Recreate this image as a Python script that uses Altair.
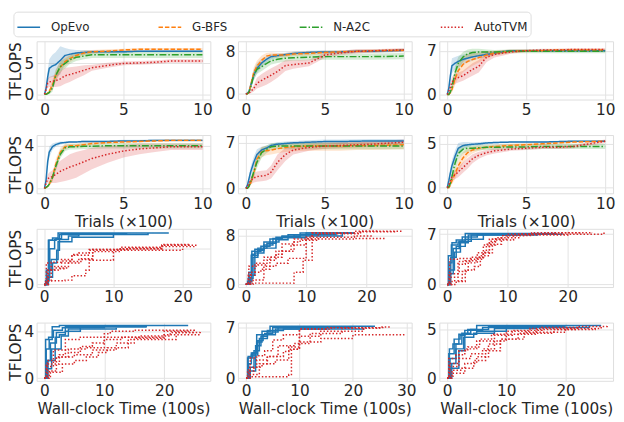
import altair as alt
import pandas as pd

FONT = "DejaVu Sans"
TXT = "#262626"
GRID = "#e3e3e3"
FRAME = "#cccccc"
FS = 15.5

METHODS = ["OpEvo", "G-BFS", "N-A2C", "AutoTVM"]
COLORS = ["#1f77b4", "#ff7f0e", "#2ca02c", "#d62728"]
DASHES = [[1, 0], [4.5, 2], [7, 2, 1.5, 2], [1.5, 2]]

# ---------- Trials panels (x in units of 100 trials) ----------
TRIALS_X = [0, 0.1, 0.2, 0.3, 0.5, 0.7, 1.0, 1.3, 1.6, 2.0, 2.5, 3.0, 4.0, 5.0, 6.0, 7.0, 8.0, 10.0]

p1_opevo = [0, 1.0, 2.8, 4.2, 4.6, 4.8, 5.5, 6.3, 6.5, 6.7, 6.8, 6.9, 6.9, 6.9, 7.0, 7.0, 7.0, 7.0]
p1_opevo_sd = [0, 0.5, 1.0, 1.5, 1.8, 2.0, 2.3, 1.2, 0.8, 0.5, 0.4, 0.3, 0.3, 0.3, 0.2, 0.2, 0.2, 0.2]
p1_gbfs = [0, 0, 0.2, 0.5, 1.5, 3.0, 4.4, 5.3, 5.8, 6.3, 6.7, 6.9, 7.0, 7.2, 7.3, 7.3, 7.3, 7.3]
p1_gbfs_sd = [0, 0, 0.2, 0.4, 0.8, 1.0, 1.0, 0.8, 0.6, 0.5, 0.4, 0.3, 0.3, 0.2, 0.2, 0.2, 0.2, 0.2]
p1_na2c = [0, 0, 0.1, 0.3, 1.0, 3.0, 4.5, 5.0, 5.6, 6.0, 6.2, 6.4, 6.4, 6.4, 6.4, 6.4, 6.4, 6.4]
p1_na2c_sd = [0, 0, 0.1, 0.3, 0.6, 0.8, 0.8, 0.8, 0.7, 0.6, 0.5, 0.5, 0.5, 0.5, 0.5, 0.5, 0.5, 0.5]
p1_autotvm = [0, 0.8, 1.8, 2.0, 2.1, 2.2, 2.5, 3.0, 3.2, 3.5, 3.9, 4.3, 4.7, 5.0, 5.1, 5.2, 5.4, 5.4]
p1_autotvm_sd = [0, 0.5, 0.8, 0.8, 0.9, 1.0, 1.2, 1.3, 1.2, 1.0, 0.8, 0.5, 0.4, 0.3, 0.3, 0.3, 0.3, 0.3]

p2_opevo = [0, 0.1, 0.5, 1.5, 3.5, 4.8, 5.8, 6.5, 7.0, 7.2, 7.4, 7.6, 7.8, 7.9, 7.9, 8.0, 8.0, 8.2]
p2_opevo_sd = [0, 0.1, 0.3, 0.7, 1.0, 1.0, 0.8, 0.6, 0.5, 0.4, 0.3, 0.3, 0.3, 0.3, 0.3, 0.3, 0.3, 0.3]
p2_gbfs = [0, 0, 0.3, 1.5, 4.0, 5.2, 6.3, 7.1, 7.3, 7.3, 7.3, 7.5, 7.6, 7.8, 7.9, 8.0, 8.1, 8.2]
p2_gbfs_sd = [0, 0, 0.2, 0.6, 1.0, 1.0, 0.9, 0.6, 0.5, 0.4, 0.4, 0.4, 0.4, 0.3, 0.3, 0.3, 0.3, 0.3]
p2_na2c = [0, 0, 0.3, 1.2, 3.5, 4.6, 5.1, 5.7, 6.2, 6.5, 6.7, 6.8, 6.9, 7.0, 7.0, 7.0, 7.0, 7.1]
p2_na2c_sd = [0, 0, 0.2, 0.5, 0.8, 0.9, 0.8, 0.8, 0.7, 0.7, 0.6, 0.6, 0.6, 0.6, 0.6, 0.6, 0.6, 0.6]
p2_autotvm = [0, 0, 0.1, 0.4, 1.0, 2.0, 2.5, 3.0, 3.5, 4.2, 5.3, 5.5, 5.8, 7.3, 7.7, 8.0, 8.1, 8.3]
p2_autotvm_sd = [0, 0, 0.1, 0.3, 0.6, 1.0, 1.2, 1.3, 1.3, 1.2, 1.0, 0.8, 0.6, 0.5, 0.4, 0.4, 0.3, 0.3]

p3_opevo = [0, 1.0, 3.0, 4.6, 5.0, 5.3, 5.6, 5.8, 6.0, 6.2, 6.4, 6.6, 7.0, 7.0, 7.0, 7.0, 7.0, 7.0]
p3_opevo_sd = [0, 0.5, 1.0, 1.2, 1.0, 0.9, 0.8, 0.7, 0.6, 0.5, 0.4, 0.3, 0.2, 0.2, 0.2, 0.2, 0.2, 0.2]
p3_gbfs = [0, 0, 0.3, 0.8, 2.5, 3.8, 4.8, 5.3, 5.6, 5.9, 6.3, 6.6, 6.9, 7.0, 7.0, 7.1, 7.1, 7.1]
p3_gbfs_sd = [0, 0, 0.2, 0.5, 1.0, 1.2, 1.3, 1.2, 1.0, 0.8, 0.6, 0.4, 0.3, 0.2, 0.2, 0.2, 0.2, 0.2]
p3_na2c = [0, 0, 0.4, 1.2, 3.5, 5.0, 6.0, 6.5, 6.7, 6.8, 6.8, 6.8, 6.9, 6.9, 6.9, 6.9, 6.9, 6.9]
p3_na2c_sd = [0, 0, 0.3, 0.6, 1.0, 1.0, 0.8, 0.7, 0.6, 0.5, 0.4, 0.3, 0.3, 0.3, 0.3, 0.3, 0.3, 0.3]
p3_autotvm = [0, 0.5, 1.2, 2.0, 2.5, 2.7, 3.0, 3.5, 4.0, 4.5, 6.0, 6.4, 6.8, 7.0, 7.1, 7.1, 7.2, 7.2]
p3_autotvm_sd = [0, 0.3, 0.5, 0.8, 0.8, 0.8, 0.8, 0.9, 1.0, 1.0, 0.8, 0.5, 0.3, 0.2, 0.2, 0.2, 0.2, 0.2]

p4_opevo = [0, 0.8, 2.5, 3.4, 3.9, 4.1, 4.25, 4.3, 4.35, 4.35, 4.4, 4.4, 4.4, 4.45, 4.45, 4.5, 4.5, 4.5]
p4_opevo_sd = [0, 0.3, 0.6, 0.5, 0.3, 0.2, 0.15, 0.1, 0.1, 0.1, 0.1, 0.1, 0.1, 0.1, 0.1, 0.1, 0.1, 0.1]
p4_gbfs = [0, 0.1, 0.2, 0.4, 1.0, 2.2, 3.4, 3.9, 4.0, 4.0, 4.1, 4.2, 4.3, 4.35, 4.4, 4.45, 4.5, 4.5]
p4_gbfs_sd = [0, 0, 0.1, 0.2, 0.4, 0.5, 0.4, 0.3, 0.2, 0.2, 0.2, 0.15, 0.15, 0.15, 0.1, 0.1, 0.1, 0.1]
p4_na2c = [0, 0.1, 0.2, 0.4, 1.0, 2.0, 3.2, 3.8, 3.9, 3.9, 3.95, 3.95, 4.0, 4.0, 4.0, 4.0, 4.0, 4.0]
p4_na2c_sd = [0, 0, 0.1, 0.2, 0.3, 0.4, 0.4, 0.3, 0.25, 0.25, 0.25, 0.25, 0.25, 0.25, 0.25, 0.25, 0.25, 0.25]
p4_autotvm = [0, 0.5, 0.9, 1.0, 1.1, 1.3, 1.6, 1.8, 2.0, 2.2, 2.5, 2.8, 3.2, 3.5, 3.7, 3.8, 3.9, 3.9]
p4_autotvm_sd = [0, 0.2, 0.4, 0.5, 0.6, 0.8, 1.0, 1.1, 1.2, 1.2, 1.1, 1.0, 0.8, 0.6, 0.5, 0.4, 0.3, 0.3]

p5_opevo = [0, 0.5, 1.5, 2.5, 4.0, 5.2, 5.9, 6.2, 6.6, 6.8, 6.9, 7.0, 7.1, 7.2, 7.2, 7.25, 7.3, 7.3]
p5_opevo_sd = [0, 0.3, 0.6, 0.8, 0.9, 0.8, 0.5, 0.4, 0.3, 0.3, 0.3, 0.3, 0.3, 0.3, 0.3, 0.3, 0.3, 0.3]
p5_gbfs = [0, 0, 0.3, 0.8, 2.3, 4.5, 5.6, 5.8, 5.9, 6.1, 6.3, 6.4, 6.5, 6.5, 6.5, 6.6, 6.6, 6.7]
p5_gbfs_sd = [0, 0, 0.2, 0.4, 0.8, 0.9, 0.8, 0.7, 0.7, 0.7, 0.7, 0.7, 0.7, 0.7, 0.7, 0.7, 0.7, 0.7]
p5_na2c = [0, 0, 0.3, 1.0, 2.5, 4.0, 5.5, 6.0, 6.4, 6.5, 6.5, 6.5, 6.5, 6.5, 6.5, 6.5, 6.5, 6.5]
p5_na2c_sd = [0, 0, 0.2, 0.5, 0.8, 0.9, 0.8, 0.6, 0.5, 0.5, 0.5, 0.5, 0.5, 0.5, 0.5, 0.5, 0.5, 0.5]
p5_autotvm = [0, 0.2, 0.8, 1.2, 1.6, 1.8, 1.9, 2.0, 2.5, 4.0, 5.2, 5.9, 6.3, 6.5, 6.6, 6.7, 6.8, 7.1]
p5_autotvm_sd = [0, 0.1, 0.4, 0.6, 0.7, 0.8, 0.8, 0.8, 1.0, 1.2, 1.0, 0.7, 0.5, 0.4, 0.4, 0.4, 0.4, 0.4]

p6_opevo = [0, 0.8, 1.7, 2.5, 3.6, 4.5, 4.8, 4.9, 4.95, 5.0, 5.1, 5.15, 5.2, 5.2, 5.2, 5.25, 5.3, 5.3]
p6_opevo_sd = [0, 0.3, 0.6, 0.7, 0.7, 0.6, 0.4, 0.3, 0.2, 0.2, 0.15, 0.1, 0.1, 0.1, 0.1, 0.1, 0.1, 0.1]
p6_gbfs = [0, 0, 0.3, 0.8, 1.6, 2.5, 3.4, 4.0, 4.3, 4.5, 4.6, 4.7, 4.8, 4.9, 5.0, 5.1, 5.2, 5.3]
p6_gbfs_sd = [0, 0, 0.2, 0.4, 0.6, 0.7, 0.6, 0.5, 0.4, 0.3, 0.2, 0.2, 0.2, 0.2, 0.15, 0.15, 0.1, 0.1]
p6_na2c = [0, 0.1, 0.5, 1.3, 2.8, 3.9, 4.4, 4.5, 4.5, 4.55, 4.6, 4.6, 4.65, 4.65, 4.7, 4.7, 4.7, 4.7]
p6_na2c_sd = [0, 0.1, 0.3, 0.6, 0.8, 0.7, 0.5, 0.4, 0.3, 0.3, 0.3, 0.3, 0.3, 0.3, 0.3, 0.3, 0.3, 0.3]
p6_autotvm = [0, 0.3, 0.8, 1.2, 1.5, 1.8, 2.3, 2.8, 3.3, 3.7, 4.0, 4.2, 4.4, 4.5, 4.6, 4.6, 4.7, 5.3]
p6_autotvm_sd = [0, 0.2, 0.3, 0.4, 0.5, 0.6, 0.6, 0.6, 0.5, 0.4, 0.3, 0.3, 0.2, 0.2, 0.2, 0.2, 0.2, 0.2]

# ---------- Wall-clock panels (x in units of 100 s), 5 runs each ----------
w1_opevo_t = [[0, 0.3, 0.6, 1.2, 2.0, 18], [0, 0.5, 0.8, 1.5, 3.5, 5.0, 12], [0, 0.4, 1.0, 2.0, 4.0, 10],
              [0, 0.2, 0.7, 1.7, 2.5, 8], [0, 0.6, 1.2, 1.8, 2.2, 15]]
w1_opevo_y = [[0, 2, 6.2, 6.5, 7.2, 7.2], [0, 1.2, 5, 6.3, 6.8, 7.1, 7.1], [0, 2, 3.5, 6.0, 6.6, 7.0],
              [0, 0.5, 6.2, 6.4, 7.1, 7.1], [0, 1.0, 3.0, 4.8, 7.0, 7.2]]
w1_autotvm_t = [[0, 0.3, 1, 2.5, 4, 5, 6.5, 11, 17, 22], [0, 0.5, 2, 3, 5, 7, 12, 17, 21],
                [0, 0.4, 3, 4, 6, 6.5, 10, 20], [0, 0.6, 1.5, 3.5, 5.5, 7, 11, 17, 22],
                [0, 0.2, 1, 2.5, 4, 6.5, 11, 17, 21]]
w1_autotvm_y = [[0, 3, 3.1, 3.3, 4.2, 4.4, 4.8, 5.0, 5.5, 5.5], [0, 2.0, 2.2, 3.0, 3.6, 4.9, 5.1, 5.6, 5.6],
                [0, 0.5, 0.6, 1.2, 2.0, 3.4, 4.8, 5.0], [0, 2.1, 2.3, 3.2, 3.5, 4.6, 5.0, 5.3, 5.3],
                [0, 0.5, 2.5, 3.5, 4.1, 4.9, 5.2, 5.5, 5.5]]

w2_opevo_t = [[0, 0.5, 1, 1.5, 3, 4.5, 6, 10, 18], [0, 0.8, 1.2, 2, 3.5, 5, 8, 15], [0, 0.3, 1.0, 2.5, 4, 6, 9, 18],
              [0, 0.6, 1.5, 3, 5, 7, 12], [0, 0.4, 0.9, 2, 3, 5.5, 10, 16]]
w2_opevo_y = [[0, 2, 5, 5.8, 6.5, 7.6, 8.0, 8.5, 8.5], [0, 1, 4.5, 6, 6.8, 7.8, 8.2, 8.3],
              [0, 0.5, 5.5, 6.3, 7.5, 7.9, 8.5, 8.5], [0, 1.5, 5.2, 6.0, 7.4, 8.2, 8.3],
              [0, 1, 4.8, 5.6, 7.0, 7.7, 8.0, 8.4]]
w2_autotvm_t = [[0, 1, 3, 6, 8, 9.5, 11, 19, 26], [0, 0.5, 2, 3.5, 5, 7.5, 10, 18, 23],
                [0, 0.8, 2.5, 4, 6, 8, 9, 12, 19, 25], [0, 1.2, 3, 5, 7, 10, 11, 18, 22],
                [0, 0.4, 1.5, 3, 5, 6, 8, 10, 18, 21]]
w2_autotvm_y = [[0, 0.2, 0.2, 0.2, 2, 4, 8.5, 8.8, 8.8], [0, 3, 3.2, 4, 5.5, 6.5, 7.5, 7.6, 7.6],
                [0, 2, 2.5, 4.5, 5.5, 7.0, 7.3, 8.4, 8.7, 8.7], [0, 0.7, 3, 3.5, 4.3, 7.6, 8.5, 8.8, 8.8],
                [0, 1.5, 3.5, 4.5, 5, 6.7, 7.5, 7.8, 8.0, 8.0]]

w3_opevo_t = [[0, 0.3, 0.8, 1.5, 3, 18], [0, 0.5, 1, 2, 4, 15], [0, 0.2, 0.7, 1.8, 2.5, 5, 19],
              [0, 0.4, 1.2, 2.2, 3.5, 12], [0, 0.6, 1.5, 3, 6, 16]]
w3_opevo_y = [[0, 3, 5.8, 6.2, 7.1, 7.2], [0, 1.5, 5.0, 6.0, 6.9, 7.1], [0, 4, 5.5, 5.9, 6.6, 7.0, 7.2],
              [0, 2, 4.5, 5.8, 6.9, 7.0], [0, 3.8, 5.3, 6.3, 7.0, 7.1]]
w3_autotvm_t = [[0, 0.4, 2, 4, 6, 7, 8, 12, 26], [0, 1.5, 3, 4.5, 5.5, 7, 9, 14, 24],
                [0, 0.3, 2, 3, 5, 6.5, 9, 13, 20], [0, 0.5, 1.8, 4, 6, 7.5, 10, 16, 22],
                [0, 0.8, 2.5, 3.5, 5, 6, 8, 11, 18]]
w3_autotvm_y = [[0, 3.5, 3.6, 3.8, 4.5, 6.0, 6.5, 7.0, 7.4], [0, 0.4, 2, 2.5, 4.0, 6.3, 6.8, 7.2, 7.3],
                [0, 1.5, 2.8, 3.3, 4.4, 5.6, 6.8, 6.9, 7.3], [0, 1, 3.2, 3.5, 4.4, 6.3, 7.0, 7.2, 7.3],
                [0, 0.5, 1.8, 3, 3.8, 5.5, 6.2, 7.0, 7.2]]

w4_opevo_t = [[0, 0.3, 0.8, 1.3, 2.5, 24], [0, 0.5, 1, 2, 3.5, 17], [0, 0.4, 1.2, 2.8, 4, 6, 17],
              [0, 0.2, 0.7, 1.5, 3, 10], [0, 0.6, 1.8, 2.5, 3.5, 6, 12]]
w4_opevo_y = [[0, 2.5, 3.3, 4.4, 4.5, 4.5], [0, 1.5, 3.0, 3.9, 4.4, 4.5], [0, 0.8, 2.5, 3.6, 4.2, 4.4, 4.4],
              [0, 3.3, 3.5, 4.1, 4.3, 4.4], [0, 1.5, 3.5, 3.7, 4.0, 4.2, 4.3]]
w4_autotvm_t = [[0, 0.3, 2.5, 3.5, 6, 10, 11, 15, 25], [0, 0.8, 2, 4, 6, 8, 10, 13, 20, 26],
                [0, 1, 3, 5, 7, 9, 10.5, 14, 22, 26], [0, 0.5, 2, 5, 8, 12, 15, 20, 24],
                [0, 0.4, 1.5, 4, 7, 10, 16, 21, 25]]
w4_autotvm_y = [[0, 1.2, 2.0, 3.3, 3.5, 3.8, 4.0, 4.1, 4.2], [0, 0.6, 1.8, 2.2, 2.7, 3.0, 3.3, 3.5, 3.7, 3.8],
                [0, 0.5, 1.2, 1.5, 1.8, 2.2, 2.6, 3.3, 3.9, 4.0], [0, 1.5, 1.8, 2.0, 2.4, 3.0, 3.4, 4.0, 4.2],
                [0, 1, 2.4, 2.5, 2.6, 3.5, 3.6, 3.9, 4.1]]

w5_opevo_t = [[0, 0.5, 1, 2, 3, 4.5, 24], [0, 0.8, 1.5, 2.5, 4, 6, 20], [0, 0.3, 1.2, 2, 3.5, 5, 18],
              [0, 0.6, 1.8, 2.8, 4, 7, 22], [0, 0.4, 1, 2.2, 3.2, 5.5, 15]]
w5_opevo_y = [[0, 2, 3.5, 5, 6.5, 7.2, 7.3], [0, 1.5, 3.8, 5.5, 6.4, 7.0, 7.1], [0, 2.8, 3.5, 6.0, 6.2, 7.0, 7.1],
              [0, 1, 4.5, 5.8, 6.6, 6.8, 7.0], [0, 3, 3.2, 5.2, 6.0, 6.8, 7.0]]
w5_autotvm_t = [[0, 1, 3, 6, 8, 8.5, 10, 15, 25, 27], [0, 0.5, 2, 4, 7, 8, 10, 14, 20, 29.5],
                [0, 0.8, 2, 3.5, 5, 7, 10, 16, 26], [0, 0.3, 1.5, 3, 5.5, 8, 10, 14, 22],
                [0, 0.5, 2.5, 4, 6, 9, 12, 18, 25]]
w5_autotvm_y = [[0, 0.2, 0.2, 0.2, 0.5, 4, 6.8, 7.0, 7.1, 7.2], [0, 1.5, 2.5, 3, 3.7, 4.0, 5.0, 5.5, 6.0, 6.2],
                [0, 2.8, 3.1, 3.8, 5.3, 6.0, 6.8, 7.0, 7.1], [0, 1, 1.5, 2.0, 2.5, 4.3, 5.8, 6.5, 7.0],
                [0, 0.5, 2.0, 3.0, 4.5, 4.8, 6.2, 6.9, 7.1]]

w6_opevo_t = [[0, 0.4, 1, 2, 3.5, 5, 26], [0, 0.8, 1.5, 2.5, 4, 7, 20], [0, 0.3, 1.2, 2.2, 3, 6, 18],
              [0, 0.6, 2, 3, 5, 10, 24], [0, 0.5, 1.5, 2.8, 4.5, 8, 15]]
w6_opevo_y = [[0, 3, 3.5, 4.5, 5.0, 5.4, 5.4], [0, 1.5, 3.5, 4.6, 5.0, 5.3, 5.3], [0, 2.5, 4.0, 4.4, 4.9, 5.2, 5.3],
              [0, 1, 2.8, 4.5, 4.8, 5.2, 5.4], [0, 2, 3.0, 4.2, 4.6, 5.1, 5.2]]
w6_autotvm_t = [[0, 0.5, 2, 4, 6, 8, 10, 15, 22, 27], [0, 1, 3, 5, 7, 9, 12, 18, 25],
                [0, 0.3, 1.5, 3, 5, 8, 11, 16, 22], [0, 0.8, 2.5, 4.5, 6.5, 9, 13, 20, 26],
                [0, 0.4, 2, 3.5, 5.5, 7.5, 10, 14, 21]]
w6_autotvm_y = [[0, 1.2, 2.0, 2.5, 3.0, 3.8, 4.5, 5.0, 5.3, 5.4], [0, 0.5, 1.5, 2.2, 3.5, 4.0, 4.6, 5.0, 5.3],
                [0, 2.0, 2.4, 3.0, 3.8, 4.4, 4.9, 5.2, 5.3], [0, 0.8, 1.0, 1.8, 2.8, 4.0, 4.7, 5.1, 5.3],
                [0, 1.5, 2.8, 3.2, 4.0, 4.5, 4.8, 5.1, 5.2]]

PANEL_W = 176
PANEL_H = 59

color_scale = alt.Scale(domain=METHODS, range=COLORS)
dash_scale = alt.Scale(domain=METHODS, range=DASHES)

LEGEND = alt.Legend(
    orient="none", legendX=-23.5, legendY=-30, direction="horizontal", columns=4,
    symbolType="stroke", symbolSize=529, symbolStrokeWidth=1.5,
    labelFontSize=12, labelFont=FONT, labelColor=TXT, labelOffset=10,
    columnPadding=52, gridAlign="all", padding=3, strokeColor="#dddddd",
    cornerRadius=4, fillColor="white", title=None,
)


def make_axis(values, title, is_y):
    kw = dict(values=values, grid=True, gridColor=GRID, gridWidth=1, domain=False, ticks=False,
              tickSize=0, labelPadding=3, labelFontSize=FS, labelFont=FONT,
              labelColor=TXT, format="d", titleFontSize=FS, titleFont=FONT,
              titleFontWeight="normal", titleColor=TXT, titlePadding=0 if is_y else 3,
              title=title)
    return alt.Axis(**kw)


def trial_panel(series, ydom, yticks, xtitle, ytitle):
    rows = []
    for m, (mean, sd) in zip(METHODS, series):
        for x, v, s in zip(TRIALS_X, mean, sd):
            rows.append({"method": m, "x": x, "y": v, "lo": v - s, "hi": v + s})
    df = pd.DataFrame(rows)
    xs = alt.Scale(domain=[-0.5, 10.5], nice=False, zero=False)
    ys = alt.Scale(domain=ydom, nice=False, zero=False)
    base = alt.Chart(df)
    layers = []
    for m, c in zip(METHODS, COLORS):
        layers.append(
            base.transform_filter(alt.datum.method == m).mark_area(opacity=0.2, color=c, clip=True).encode(
                x=alt.X("x:Q", scale=xs, axis=make_axis([0, 5, 10], xtitle, False)),
                y=alt.Y("lo:Q", scale=ys, axis=make_axis(yticks, ytitle, True)),
                y2="hi:Q",
            )
        )
    line = base.mark_line(strokeWidth=1.5, clip=True).encode(
        x="x:Q",
        y="y:Q",
        color=alt.Color("method:N", scale=color_scale, legend=LEGEND),
        strokeDash=alt.StrokeDash("method:N", scale=dash_scale, legend=LEGEND),
    )
    layers.append(line)
    return alt.layer(*layers).properties(width=PANEL_W, height=PANEL_H)


def wall_panel(op_t, op_y, at_t, at_y, xdom, xticks, ydom, yticks, xtitle, ytitle):
    rows = []
    for m, ts, ys in (("OpEvo", op_t, op_y), ("AutoTVM", at_t, at_y)):
        for i, (t, y) in enumerate(zip(ts, ys)):
            for a, b in zip(t, y):
                rows.append({"method": m, "run": f"{m}-{i}", "x": a, "y": b})
    df = pd.DataFrame(rows)
    xs = alt.Scale(domain=xdom, nice=False, zero=False)
    ys = alt.Scale(domain=ydom, nice=False, zero=False)
    return alt.Chart(df).mark_line(strokeWidth=1.5, interpolate="step-after", clip=True).encode(
        x=alt.X("x:Q", scale=xs, axis=make_axis(xticks, xtitle, False)),
        y=alt.Y("y:Q", scale=ys, axis=make_axis(yticks, ytitle, True)),
        color=alt.Color("method:N", scale=color_scale, legend=LEGEND),
        strokeDash=alt.StrokeDash("method:N", scale=dash_scale, legend=LEGEND),
        detail="run:N",
    ).properties(width=PANEL_W, height=PANEL_H)


P = "TFLOPS"
TR = "Trials (\u00d7100)"
WC = "Wall-clock Time (100s)"

panels = [
    trial_panel([(p1_opevo, p1_opevo_sd), (p1_gbfs, p1_gbfs_sd), (p1_na2c, p1_na2c_sd), (p1_autotvm, p1_autotvm_sd)],
                [-0.85, 8.6], [0, 5], None, P),
    trial_panel([(p2_opevo, p2_opevo_sd), (p2_gbfs, p2_gbfs_sd), (p2_na2c, p2_na2c_sd), (p2_autotvm, p2_autotvm_sd)],
                [-1.1, 9.9], [0, 8], None, None),
    trial_panel([(p3_opevo, p3_opevo_sd), (p3_gbfs, p3_gbfs_sd), (p3_na2c, p3_na2c_sd), (p3_autotvm, p3_autotvm_sd)],
                [-0.8, 8.5], [0, 7], None, None),
    trial_panel([(p4_opevo, p4_opevo_sd), (p4_gbfs, p4_gbfs_sd), (p4_na2c, p4_na2c_sd), (p4_autotvm, p4_autotvm_sd)],
                [-0.46, 5.0], [0, 4], TR, P),
    trial_panel([(p5_opevo, p5_opevo_sd), (p5_gbfs, p5_gbfs_sd), (p5_na2c, p5_na2c_sd), (p5_autotvm, p5_autotvm_sd)],
                [-0.76, 8.2], [0, 7], TR, None),
    trial_panel([(p6_opevo, p6_opevo_sd), (p6_gbfs, p6_gbfs_sd), (p6_na2c, p6_na2c_sd), (p6_autotvm, p6_autotvm_sd)],
                [-0.63, 6.0], [0, 5], TR, None),
    wall_panel(w1_opevo_t, w1_opevo_y, w1_autotvm_t, w1_autotvm_y, [-1.1, 24], [0, 10, 20], [-0.37, 7.8], [0, 5], None, P),
    wall_panel(w2_opevo_t, w2_opevo_y, w2_autotvm_t, w2_autotvm_y, [-1.3, 27.5], [0, 10, 20], [-0.45, 9.2], [0, 8], None, None),
    wall_panel(w3_opevo_t, w3_opevo_y, w3_autotvm_t, w3_autotvm_y, [-1.3, 27.5], [0, 10, 20], [-0.37, 7.75], [0, 7], None, None),
    wall_panel(w4_opevo_t, w4_opevo_y, w4_autotvm_t, w4_autotvm_y, [-1.3, 27.7], [0, 10, 20], [-0.23, 4.75], [0, 4], WC, P),
    wall_panel(w5_opevo_t, w5_opevo_y, w5_autotvm_t, w5_autotvm_y, [-1.5, 31], [0, 10, 20, 30], [-0.37, 7.7], [0, 7], WC, None),
    wall_panel(w6_opevo_t, w6_opevo_y, w6_autotvm_t, w6_autotvm_y, [-1.3, 28], [0, 10, 20], [-0.28, 5.7], [0, 5], WC, None),
]

chart = alt.concat(
    *panels, columns=3, spacing={"row": 36, "column": 28}, bounds="flush",
    padding={"left": 0, "top": 0, "right": 0, "bottom": 0},
).configure_view(stroke=FRAME, strokeWidth=1).configure(background="white")

chart.save("out.html", embed_options={"renderer": "svg", "actions": False})
